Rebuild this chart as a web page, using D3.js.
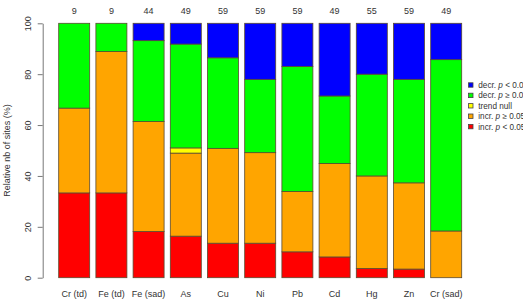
<!DOCTYPE html>
<html>
<head>
<meta charset="utf-8">
<script src="https://cdn.jsdelivr.net/npm/d3@7"></script>
<style>
  body { margin: 0; background: #fff; }
  svg { font-family: "Liberation Sans", Arial, sans-serif; }
</style>
</head>
<body>
<div id="chart"></div>
<script>
////
// DATA
////
// site counts per element, bottom to top of each bar
var elements = ["Cr (td)", "Fe (td)", "Fe (sad)", "As", "Cu", "Ni", "Pb", "Cd", "Hg", "Zn", "Cr (sad)"];
var n_sites  = [9, 9, 44, 49, 59, 59, 59, 49, 55, 59, 49];
var incr_sig    = [3, 3, 8, 8, 8, 8, 6, 4, 2, 2, 0];
var incr_nonsig = [3, 5, 19, 16, 22, 21, 14, 18, 20, 20, 9];
var trend_null  = [0, 0, 0, 1, 0, 0, 0, 0, 0, 0, 0];
var decr_nonsig = [3, 1, 14, 20, 21, 17, 29, 13, 22, 24, 33];
var decr_sig    = [0, 0, 3, 4, 8, 13, 10, 14, 11, 13, 7];
var y_ticks = [0, 20, 40, 60, 80, 100];

var series_keys = ["incr_sig", "incr_nonsig", "trend_null", "decr_nonsig", "decr_sig"];
var series_counts = { incr_sig: incr_sig, incr_nonsig: incr_nonsig, trend_null: trend_null, decr_nonsig: decr_nonsig, decr_sig: decr_sig };
var series_colors = { incr_sig: "#ff0000", incr_nonsig: "#ffa500", trend_null: "#ffff00", decr_nonsig: "#00ff00", decr_sig: "#0000ff" };

// legend entries, top to bottom: [key, prefix, relation]
var legend_items = [
    ["decr_sig", "decr. ", " < 0.05"],
    ["decr_nonsig", "decr. ", " \u2265 0.05"],
    ["trend_null", "trend null", null],
    ["incr_nonsig", "incr. ", " \u2265 0.05"],
    ["incr_sig", "incr. ", " < 0.05"]
];

// percentages per element
var rows = elements.map((el, i) => {
    var row = { element: el, n: n_sites[i] };
    series_keys.forEach(k => row[k] = series_counts[k][i] / n_sites[i] * 100);
    return row;
});

////
// CONTAINER
////
const width = 523, height = 303;
const svg = d3.select("#chart").append("svg")
    .attr("width", width)
    .attr("height", height);

var x = d3.scaleBand()
    .domain(elements)
    .range([55.6, 464.8])
    .paddingInner(0.1667)
    .paddingOuter(0.0833);

var y = d3.scaleLinear()
    .domain([0, 100])
    .range([277.7, 23.3]);

var stacked = d3.stack().keys(series_keys)(rows);

// bars
svg.append("g").selectAll("g")
    .data(stacked)
    .enter()
    .append("g")
    .attr("fill", d => series_colors[d.key])
    .selectAll("rect")
    .data(d => d.filter(s => s[1] - s[0] > 0))
    .enter()
    .append("rect")
    .attr("x", d => x(d.data.element))
    .attr("y", d => y(d[1]))
    .attr("width", x.bandwidth())
    .attr("height", d => y(d[0]) - y(d[1]))
    .attr("stroke", "#5a4a30")
    .attr("stroke-width", 0.8);

// y axis
var y_axis = svg.append("g")
    .attr("transform", "translate(42.7,0)")
    .call(d3.axisLeft(y).tickValues(y_ticks).tickSize(5).tickSizeOuter(0));

y_axis.select(".domain").attr("stroke", "#777");
y_axis.selectAll(".tick line").attr("stroke", "#777");
y_axis.selectAll(".tick text")
    .attr("x", 0).attr("y", 0).attr("dy", null)
    .attr("text-anchor", "middle")
    .attr("transform", "translate(-11.5,0) rotate(-90)")
    .attr("fill", "#333")
    .style("font-size", "9px")
    .style("font-family", "Liberation Sans, Arial, sans-serif");

svg.append("text")
    .attr("transform", `translate(10,${y(50)}) rotate(-90)`)
    .attr("text-anchor", "middle")
    .attr("fill", "#333")
    .style("font-size", "9px")
    .text("Relative nb of sites (%)");

// element labels under the bars
svg.append("g").selectAll("text")
    .data(rows)
    .enter()
    .append("text")
    .attr("x", d => x(d.element) + x.bandwidth() / 2)
    .attr("y", 296.5)
    .attr("text-anchor", "middle")
    .attr("fill", "#333")
    .style("font-size", "9px")
    .text(d => d.element);

// site counts above the bars
svg.append("g").selectAll("text")
    .data(rows)
    .enter()
    .append("text")
    .attr("x", d => x(d.element) + x.bandwidth() / 2)
    .attr("y", 14.2)
    .attr("text-anchor", "middle")
    .attr("fill", "#333")
    .style("font-size", "9px")
    .text(d => d.n);

// legend
var legend = svg.append("g").selectAll("g")
    .data(legend_items)
    .enter()
    .append("g")
    .attr("transform", (d, i) => `translate(470.8,${85 + i * 10.4})`);

legend.append("rect")
    .attr("x", -2.2).attr("y", -2.2)
    .attr("width", 4.4).attr("height", 4.4)
    .attr("fill", d => series_colors[d[0]])
    .attr("stroke", "#444")
    .attr("stroke-width", 0.8);

var legend_text = legend.append("text")
    .attr("x", 7.5)
    .attr("y", 2.9)
    .attr("fill", "#333")
    .style("font-size", "8.2px");

legend_text.append("tspan").text(d => d[1]);
legend_text.filter(d => d[2] != null).append("tspan").style("font-style", "italic").text("p");
legend_text.filter(d => d[2] != null).append("tspan").text(d => d[2]);
</script>
</body>
</html>
